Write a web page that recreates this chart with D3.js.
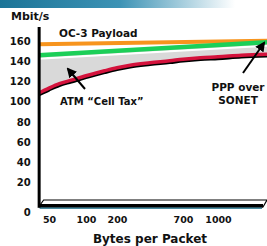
<!DOCTYPE html>
<html>
<head>
<meta charset="utf-8">
<script src="https://cdn.jsdelivr.net/npm/d3@7"></script>
<style>
  body { margin:0; background:#fff; }
  svg text { font-family:"DejaVu Sans", Verdana, sans-serif; font-weight:bold; fill:#111; }
</style>
</head>
<body>
<div id="chart"></div>
<script>
// tick labels
var yTicks=[0,20,40,60,80,100,120,140,160];
var xTicks=[50,100,200,700,1000];

// bytes per packet sampled along the ATM curve
var atmBytes=[36,50,64,80,100,130,160,200,300,450,600,700,850,1000,1200,1420];
var atmRate=[108.5,113.4,117.8,121.3,125.7,128.2,130.6,133.6,136.1,138.5,140.5,142,143.5,144.4,145.9,146.9];

// PPP over SONET and OC-3 payload (straight lines)
var pppBytes=[36,1420];
var pppRate=[145.9,158.7];
var oc3Bytes=[36,1420];
var oc3Rate=[156.8,160.2];

var width=267,
    height=246;

var svg=d3.select("#chart")
          .append("svg")
          .attr("width",width)
          .attr("height",height);

var defs=svg.append("defs");
var grad=defs.append("linearGradient").attr("id","banner");
grad.append("stop").attr("offset","0%").attr("stop-color","#1b7497");
grad.append("stop").attr("offset","45%").attr("stop-color","#3d93b5");
grad.append("stop").attr("offset","88%").attr("stop-color","#ffffff");

defs.append("marker")
    .attr("id","head")
    .attr("viewBox","0 0 10 10")
    .attr("refX",8).attr("refY",5)
    .attr("markerWidth",5).attr("markerHeight",5)
    .attr("orient","auto")
    .append("path")
    .attr("d","M0,0L10,5L0,10z")
    .attr("fill","#000");

// banner across the top
svg.append("rect")
   .attr("x",0).attr("y",0)
   .attr("width",width).attr("height",8)
   .attr("fill","url(#banner)");

// scales: bytes axis is not evenly spaced, so use a polylinear scale through the tick labels
var xScale=d3.scaleLinear()
             .domain(xTicks)
             .range([49,86,117,183,218]);

var yScale=d3.scaleLinear()
             .domain([0,160])
             .range([203,41]);

var x0=xScale(36), x1=xScale(1420);

// gray band between PPP and ATM
var band=pppBytes.map(function(d,i){ return [d,pppRate[i]]; })
  .concat(atmBytes.map(function(d,i){ return [d,atmRate[i]]; }).reverse());

svg.append("path")
   .attr("d",d3.line()
      .x(function(d){ return xScale(d[0]); })
      .y(function(d){ return yScale(d[1]); })(band)+"Z")
   .attr("fill","#d9d9d9");

var line=d3.line()
           .x(function(d){ return xScale(d[0]); })
           .y(function(d){ return yScale(d[1]); })
           .curve(d3.curveMonotoneX);

var atm=atmBytes.map(function(d,i){ return [d,atmRate[i]]; });
var ppp=pppBytes.map(function(d,i){ return [d,pppRate[i]]; });
var oc3=oc3Bytes.map(function(d,i){ return [d,oc3Rate[i]]; });

// white highlight under the green line
svg.append("path")
   .attr("d",line(ppp))
   .attr("transform","translate(0,3.5)")
   .attr("fill","none")
   .attr("stroke","#fff")
   .attr("stroke-width",2);

// ATM curve with black shadow
svg.append("path")
   .attr("d",line(atm))
   .attr("transform","translate(0,1.6)")
   .attr("fill","none")
   .attr("stroke","#000")
   .attr("stroke-width",3.5);
svg.append("path")
   .attr("d",line(atm))
   .attr("fill","none")
   .attr("stroke","#d4123c")
   .attr("stroke-width",3.5);

svg.append("path")
   .attr("d",line(oc3))
   .attr("fill","none")
   .attr("stroke","#f7941d")
   .attr("stroke-width",4);

svg.append("path")
   .attr("d",line(ppp))
   .attr("fill","none")
   .attr("stroke","#1ccf58")
   .attr("stroke-width",4.5);

// floor slab
var fy=yScale(0);
svg.append("path")
   .attr("d","M"+x0+","+(fy+4)+"L"+(x0+5)+","+(fy-3)+"L"+(x1)+","+(fy-3)+"L"+(x1-4)+","+(fy+4)+"Z")
   .attr("fill","#fff")
   .attr("stroke","#000")
   .attr("stroke-width",1.2);
svg.append("rect")
   .attr("x",x0).attr("y",fy+1)
   .attr("width",x1-4-x0).attr("height",3.5)
   .attr("fill","#000");
svg.append("rect")
   .attr("x",x0+1).attr("y",fy+4.5)
   .attr("width",x1-6-x0).attr("height",1.3)
   .attr("fill","#1f6f88");

// y axis
svg.append("line")
   .attr("x1",x0+0.5).attr("x2",x0+0.5)
   .attr("y1",27).attr("y2",fy+4.5)
   .attr("stroke","#000")
   .attr("stroke-width",3);

var yAxis=d3.axisLeft(yScale).tickValues(yTicks).tickSize(0).tickPadding(8);
var gy=svg.append("g")
   .attr("transform","translate("+x0+",0)")
   .call(yAxis);
gy.select(".domain").remove();
gy.selectAll("text")
  .style("font-family","DejaVu Sans")
  .style("font-size","10px")
  .style("font-weight","bold")
  .attr("fill","#111")
  .attr("dy",function(d){ return d===0 ? "1.25em" : "0.32em"; });

var xAxis=d3.axisBottom(xScale).tickValues(xTicks).tickFormat(d3.format("d")).tickSize(0).tickPadding(6);
var gx=svg.append("g")
   .attr("transform","translate(0,"+(fy+7)+")")
   .call(xAxis);
gx.select(".domain").remove();
gx.selectAll("text")
  .style("font-family","DejaVu Sans")
  .style("font-size","9.5px")
  .style("font-weight","bold")
  .attr("fill","#111");

// labels
svg.append("text").attr("x",11).attr("y",20).style("font-size","11px").text("Mbit/s");
svg.append("text").attr("x",59).attr("y",37).style("font-size","10.5px").text("OC-3 Payload");
svg.append("text").attr("x",60).attr("y",105).style("font-size","10px").text("ATM \u201CCell Tax\u201D");
svg.append("text").attr("x",238).attr("y",91).attr("text-anchor","middle").style("font-size","10.5px").text("PPP over");
svg.append("text").attr("x",238).attr("y",104).attr("text-anchor","middle").style("font-size","10.5px").text("SONET");
svg.append("text").attr("x",150).attr("y",243).attr("text-anchor","middle").style("font-size","12px").text("Bytes per Packet");

// arrows
svg.append("line")
   .attr("x1",85).attr("y1",89).attr("x2",68).attr("y2",69)
   .attr("stroke","#000").attr("stroke-width",2)
   .attr("marker-end","url(#head)");
svg.append("line")
   .attr("x1",243).attr("y1",73).attr("x2",264).attr("y2",43)
   .attr("stroke","#000").attr("stroke-width",2)
   .attr("marker-end","url(#head)");
</script>
</body>
</html>
